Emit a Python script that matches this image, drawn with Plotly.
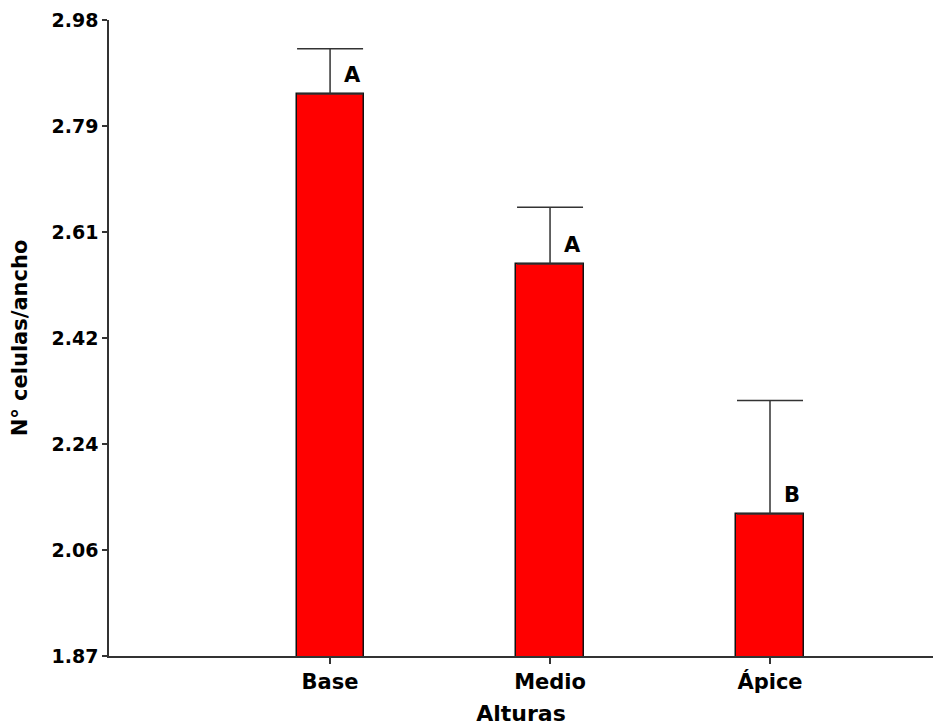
import plotly.graph_objects as go

categories = ["Base", "Medio", "Ápice"]
means = [2.851, 2.554, 2.118]
errors = [0.079, 0.099, 0.198]
letters = ["A", "A", "B"]
y_tickvals = [1.87, 2.055, 2.24, 2.425, 2.61, 2.795, 2.98]
y_ticktext = ["1.87", "2.06", "2.24", "2.42", "2.61", "2.79", "2.98"]

FONT = "DejaVu Sans"
AX = "#333333"

fig = go.Figure()
fig.add_trace(go.Bar(
    x=list(range(len(categories))),
    y=means,
    width=0.305,
    marker=dict(color="#FF0000", line=dict(color="#111111", width=1.5)),
    error_y=dict(type="data", symmetric=False, array=errors,
                 arrayminus=[0] * len(errors), color=AX, thickness=1.5, width=33),
    showlegend=False,
))

for i, (m, lab) in enumerate(zip(means, letters)):
    fig.add_annotation(x=i, y=m, text=lab, showarrow=False, xshift=22, yshift=19,
                       xanchor="center", yanchor="middle",
                       font=dict(family=FONT, size=21, color="black", weight="bold"))

fig.update_layout(
    width=933, height=726,
    margin=dict(l=109, r=0, t=20, b=70),
    plot_bgcolor="white", paper_bgcolor="white",
    bargap=0,
)
fig.update_xaxes(
    range=[-1.005, 2.741],
    tickvals=list(range(len(categories))), ticktext=categories,
    showline=True, linecolor=AX, linewidth=1.5,
    ticks="outside", ticklen=6, tickcolor=AX, tickwidth=1.5,
    showgrid=False, zeroline=False,
    tickfont=dict(family=FONT, size=21, color="black", weight="bold"),
    title=dict(text="Alturas", standoff=14,
               font=dict(family=FONT, size=22, color="black", weight="bold")),
)
fig.update_yaxes(
    range=[1.87, 2.98],
    tickvals=y_tickvals, ticktext=y_ticktext,
    showline=True, linecolor=AX, linewidth=1.5,
    ticks="outside", ticklen=5, tickcolor=AX, tickwidth=1.5,
    showgrid=False, zeroline=False,
    tickfont=dict(family=FONT, size=19, color="black", weight="bold"),
    title=dict(text="N° celulas/ancho", standoff=18,
               font=dict(family=FONT, size=21, color="black", weight="bold")),
)

fig.write_html("out.html")
